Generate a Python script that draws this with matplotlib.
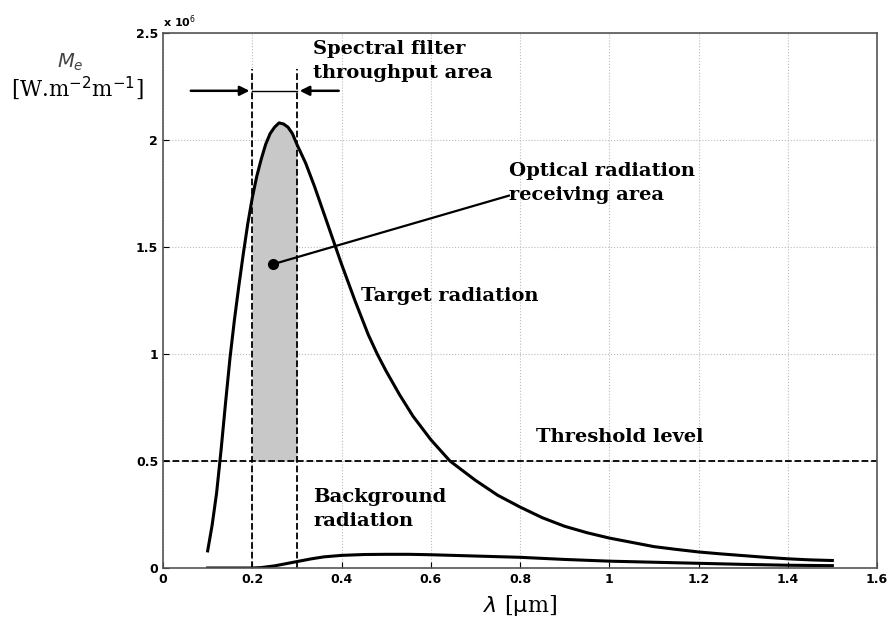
import numpy as np
import matplotlib.pyplot as plt

# values (y in units of 1e6)
lam_target = [0.10, 0.11, 0.12, 0.13, 0.14, 0.15, 0.16, 0.17, 0.18, 0.19, 0.20,
              0.21, 0.22, 0.23, 0.24, 0.25, 0.26, 0.27, 0.28, 0.29, 0.30,
              0.32, 0.34, 0.36, 0.38, 0.40, 0.43, 0.46, 0.48, 0.50, 0.53, 0.56, 0.60,
              0.643, 0.70, 0.75, 0.80, 0.85, 0.90, 0.95, 1.00, 1.05, 1.10, 1.15,
              1.20, 1.25, 1.30, 1.35, 1.40, 1.45, 1.50]
m_target = [0.08, 0.20, 0.35, 0.55, 0.77, 0.98, 1.16, 1.32, 1.47, 1.61, 1.73,
            1.83, 1.91, 1.98, 2.03, 2.06, 2.08, 2.075, 2.06, 2.03, 1.98,
            1.89, 1.78, 1.66, 1.54, 1.42, 1.25, 1.09, 1.00, 0.92, 0.81, 0.71, 0.60,
            0.50, 0.41, 0.34, 0.285, 0.235, 0.195, 0.165, 0.14, 0.12, 0.10, 0.087,
            0.075, 0.066, 0.058, 0.050, 0.043, 0.038, 0.035]

lam_bg = [0.10, 0.20, 0.22, 0.25, 0.28, 0.30, 0.33, 0.36, 0.40, 0.45, 0.50, 0.55,
          0.60, 0.70, 0.80, 0.90, 1.00, 1.10, 1.20, 1.30, 1.40, 1.50]
m_bg = [0.0, 0.0, 0.002, 0.010, 0.022, 0.030, 0.042, 0.052, 0.059, 0.063, 0.064,
        0.064, 0.062, 0.056, 0.050, 0.040, 0.032, 0.027, 0.022, 0.017, 0.013, 0.011]

threshold = 0.5
band_lo, band_hi = 0.2, 0.3
xticks = [0, 0.2, 0.4, 0.6, 0.8, 1, 1.2, 1.4, 1.6]
yticks = [0, 0.5, 1, 1.5, 2, 2.5]

serif = 'DejaVu Serif'

fig = plt.figure(figsize=(8.88, 6.35), dpi=100)
ax = fig.add_axes([0.1836, 0.1055, 0.804, 0.8425])

ax.grid(True, linestyle=':', color='#bbbbbb', linewidth=0.8)
ax.set_axisbelow(True)

# shaded receiving area: between filter edges, above the threshold
lt = np.array(lam_target)
mt = np.array(m_target)
band = (lt >= band_lo - 1e-9) & (lt <= band_hi + 1e-9)
ax.fill_between(lt[band], threshold, mt[band], color='#c8c8c8', linewidth=0)

ax.plot(lam_target, m_target, color='black', linewidth=2.2)
ax.plot(lam_bg, m_bg, color='black', linewidth=2.2)

ax.axhline(threshold, color='black', linestyle='--', linewidth=1.3)
for xb in (band_lo, band_hi):
    ax.plot([xb, xb], [0, 2.33], color='black', linestyle='--', linewidth=1.3)

# filter width arrows
ay = 2.23
ax.plot([band_lo, band_hi], [ay, ay], color='black', linewidth=1)
ax.annotate('', xy=(band_lo, ay), xytext=(0.056, ay),
            arrowprops=dict(arrowstyle='-|>', color='black', lw=1.8, mutation_scale=14))
ax.annotate('', xy=(band_hi, ay), xytext=(0.40, ay),
            arrowprops=dict(arrowstyle='-|>', color='black', lw=1.8, mutation_scale=14))

# pointer to the receiving area
ax.plot([0.247, 0.775], [1.42, 1.74], color='black', linewidth=1.6)
ax.plot([0.247], [1.42], 'o', color='black', markersize=7)

tkw = dict(family=serif, fontsize=14, fontweight='bold', linespacing=1.45)
ax.text(0.337, 2.37, 'Spectral filter\nthroughput area', ha='left', va='center', **tkw)
ax.text(0.775, 1.80, 'Optical radiation\nreceiving area', ha='left', va='center', **tkw)
ax.text(0.443, 1.27, 'Target radiation', ha='left', va='center', **tkw)
ax.text(0.836, 0.61, 'Threshold level', ha='left', va='center', **tkw)
ax.text(0.337, 0.276, 'Background\nradiation', ha='left', va='center', **tkw)

ax.set_xlim(0, 1.6)
ax.set_ylim(0, 2.5)
ax.set_xticks(xticks)
ax.set_xticklabels([f'{v:g}' for v in xticks])
ax.set_yticks(yticks)
ax.set_yticklabels([f'{v:g}' for v in yticks])
ax.tick_params(direction='in', length=4, labelsize=9)
for lab in ax.get_xticklabels() + ax.get_yticklabels():
    lab.set_fontweight('bold')
for s in ax.spines.values():
    s.set_color('#555555')
    s.set_linewidth(1.2)

ax.text(0.0, 1.005, r'x 10$^6$', transform=ax.transAxes, fontsize=8,
        fontweight='bold', ha='left', va='bottom')

fig.text(0.079, 0.902, r'$M_e$', family=serif, fontsize=14, ha='center', va='center',
         color='#444444')
fig.text(0.087, 0.861, r'[W.m$^{-2}$m$^{-1}$]', family=serif, fontsize=15.5,
         ha='center', va='center')
fig.text(0.586, 0.047, r'$\lambda$ [$\mathrm{\mu}$m]', family=serif, fontsize=16,
         ha='center', va='center')

fig.savefig('out.png', dpi=100)
